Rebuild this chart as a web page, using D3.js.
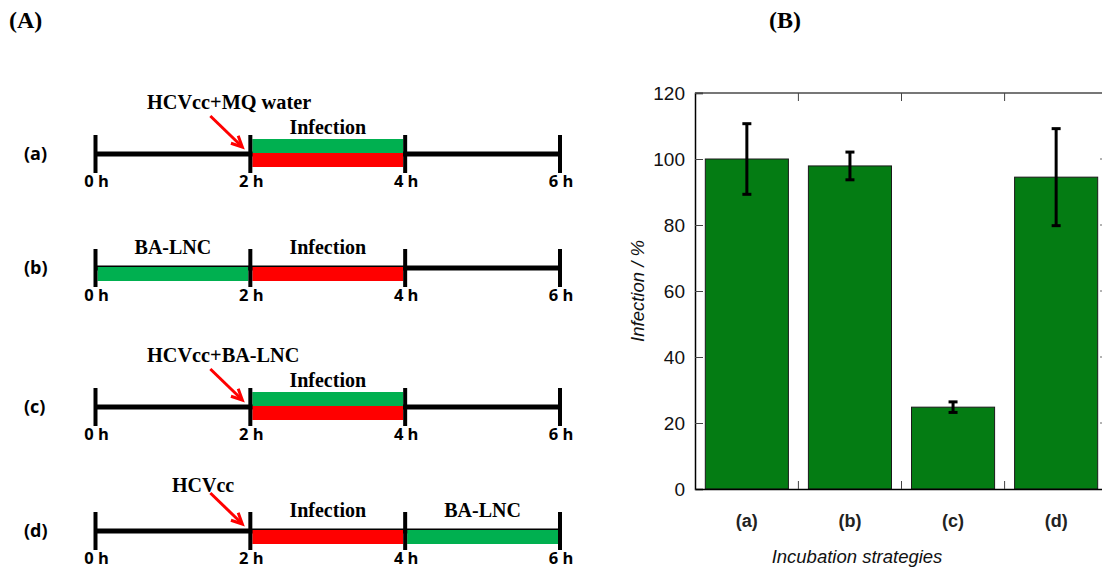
<!DOCTYPE html>
<html>
<head>
<meta charset="utf-8">
<script src="https://cdn.jsdelivr.net/npm/d3@7"></script>
<style>
  html, body { margin: 0; padding: 0; background: #fff; }
  svg { display: block; }
</style>
</head>
<body>
<svg id="chart" width="1102" height="573"></svg>
<script>
// ---------- Data ----------
// Panel A: timelines
const rowLabels = ["(a)", "(b)", "(c)", "(d)"];
const hourTicks = [0, 2, 4, 6];
const hourTickLabels = ["0 h", "2 h", "4 h", "6 h"];
// segments per row: [startHour, endHour, colour, position]
const rowSegments = [
  [[2, 4, "green", "top"], [2, 4, "red", "bottom"]],
  [[0, 2, "green", "on"], [2, 4, "red", "on"]],
  [[2, 4, "green", "top"], [2, 4, "red", "bottom"]],
  [[2, 4, "red", "on"], [4, 6, "green", "on"]]
];
// segment captions per row: [text, startHour, endHour]
const rowCaptions = [
  [["Infection", 2, 4]],
  [["BA-LNC", 0, 2], ["Infection", 2, 4]],
  [["Infection", 2, 4]],
  [["Infection", 2, 4], ["BA-LNC", 4, 6]]
];
// arrow annotations per row: [text, arrowHour] (null = none)
const rowArrows = [
  ["HCVcc+MQ water", 2],
  null,
  ["HCVcc+BA-LNC", 2],
  ["HCVcc", 2]
];

// Panel B: bar chart
const categories = ["(a)", "(b)", "(c)", "(d)"];
const infection = [100, 97.9, 24.8, 94.5];
const errors = [10.7, 4.2, 1.6, 14.7];
const yTicks = [0, 20, 40, 60, 80, 100, 120];

// ---------- Drawing ----------
const svg = d3.select("#chart");
svg.append("rect").attr("width", 1102).attr("height", 573).attr("fill", "#fff");

const serif = "'Liberation Serif', 'Times New Roman', serif";
const sansB = "'Open Sans', 'Noto Sans', sans-serif";
const arial = "'Liberation Sans', Arial, sans-serif";

// panel letters
svg.append("text").attr("x", 9).attr("y", 28).text("(A)")
  .attr("font-family", serif).attr("font-weight", "bold").attr("font-size", 24);
svg.append("text").attr("x", 769).attr("y", 28).text("(B)")
  .attr("font-family", serif).attr("font-weight", "bold").attr("font-size", 24);

// ----- Panel A -----
const hx = d3.scaleLinear().domain([0, 6]).range([95.5, 560]);
const rowLineY = { "(a)": 154, "(b)": 268, "(c)": 407, "(d)": 531 };

const green = "#00b050", red = "#ff0000";
const pa = svg.append("g");

rowLabels.forEach((lab, i) => {
  const ly = rowLineY[lab];
  const g = pa.append("g");
  g.append("line").attr("x1", hx(0)).attr("x2", hx(6)).attr("y1", ly).attr("y2", ly)
    .attr("stroke", "#000").attr("stroke-width", 5);
  rowSegments[i].forEach(([h0, h1, col, pos]) => {
    const y0 = pos === "top" ? ly - 15 : ly - 1;
    g.append("rect").attr("x", hx(h0) + 2).attr("y", y0)
      .attr("width", hx(h1) - hx(h0) - 4).attr("height", 14)
      .attr("fill", col === "green" ? green : red);
  });
  hourTicks.forEach((h, k) => {
    g.append("line").attr("x1", hx(h)).attr("x2", hx(h)).attr("y1", ly - 19).attr("y2", ly + 19)
      .attr("stroke", "#000").attr("stroke-width", 4);
    g.append("text").attr("x", hx(h) + 1).attr("y", ly + 33).attr("text-anchor", "middle")
      .attr("font-family", sansB).attr("font-weight", "bold").attr("font-size", 16.5)
      .text(hourTickLabels[k]);
  });
  g.append("text").attr("x", 24).attr("y", ly + 6).text(lab)
    .attr("font-family", sansB).attr("font-weight", "bold").attr("font-size", 18);
  const stacked = rowSegments[i].some(s => s[3] === "top");
  rowCaptions[i].forEach(([t, h0, h1]) => {
    g.append("text").attr("x", (hx(h0) + hx(h1)) / 2).attr("y", ly - (stacked ? 20 : 14))
      .attr("text-anchor", "middle").attr("font-family", serif).attr("font-weight", "bold")
      .attr("font-size", 20).text(t);
  });
  if (rowArrows[i]) {
    const [t, h] = rowArrows[i];
    const ex = hx(h) - 8, ey = ly - 7;
    const sx = hx(h) - 40, sy = ly - 38;
    g.append("line").attr("x1", sx).attr("y1", sy).attr("x2", ex - 2).attr("y2", ey - 2)
      .attr("stroke", red).attr("stroke-width", 3);
    const ang = Math.atan2(ey - sy, ex - sx);
    const L = 12, a = 0.45;
    const p1 = [ex - L * Math.cos(ang - a), ey - L * Math.sin(ang - a)];
    const p2 = [ex - L * Math.cos(ang + a), ey - L * Math.sin(ang + a)];
    g.append("path").attr("d", `M${p1[0]},${p1[1]}L${ex},${ey}L${p2[0]},${p2[1]}`)
      .attr("fill", "none").attr("stroke", red).attr("stroke-width", 3)
      .attr("stroke-linejoin", "miter");
    const textY = ly - (stacked ? 45 : 39);
    if (t === "HCVcc") {
      g.append("text").attr("x", hx(1.39)).attr("y", textY).attr("text-anchor", "middle")
        .attr("font-family", serif).attr("font-weight", "bold").attr("font-size", 20).text(t);
    } else {
      g.append("text").attr("x", 147).attr("y", textY)
        .attr("font-family", serif).attr("font-weight", "bold").attr("font-size", 20.3).text(t);
    }
  }
});

// ----- Panel B -----
const pLeft = 695, pRight = 1108, pTop = 93, pBottom = 489;
const x = d3.scaleBand().domain(categories).range([pLeft, pRight])
  .paddingInner(0.194).paddingOuter(0.1);
const y = d3.scaleLinear().domain([0, 120]).range([pBottom, pTop]);
const pb = svg.append("g");

pb.selectAll("rect.bar").data(categories).join("rect").attr("class", "bar")
  .attr("x", d => x(d)).attr("width", x.bandwidth())
  .attr("y", (d, i) => y(infection[i])).attr("height", (d, i) => y(0) - y(infection[i]))
  .attr("fill", "#047c13").attr("stroke", "#1a1a1a").attr("stroke-width", 1);

categories.forEach((c, i) => {
  const cx = x(c) + x.bandwidth() / 2;
  const y1 = y(infection[i] + errors[i]), y0 = y(infection[i] - errors[i]);
  pb.append("line").attr("x1", cx).attr("x2", cx).attr("y1", y1).attr("y2", y0)
    .attr("stroke", "#000").attr("stroke-width", 3);
  [y1, y0].forEach(yy => pb.append("line").attr("x1", cx - 4.5).attr("x2", cx + 4.5)
    .attr("y1", yy).attr("y2", yy).attr("stroke", "#000").attr("stroke-width", 3));
});

pb.append("line").attr("x1", pLeft).attr("x2", pRight).attr("y1", pTop).attr("y2", pTop)
  .attr("stroke", "#777").attr("stroke-width", 2);
pb.append("line").attr("x1", pRight).attr("x2", pRight).attr("y1", pTop).attr("y2", pBottom)
  .attr("stroke", "#777").attr("stroke-width", 2);

const yAxis = d3.axisLeft(y).tickValues(yTicks).tickSize(-8).tickPadding(10)
  .tickFormat(d3.format("d"));
const gy = pb.append("g").attr("transform", `translate(${pLeft},0)`).call(yAxis);
gy.select(".domain").attr("stroke", "#000").attr("stroke-width", 1.5);
gy.selectAll(".tick line").attr("stroke", "#444").attr("stroke-width", 1);
gy.selectAll(".tick text").attr("font-family", arial).attr("font-size", 19).attr("fill", "#111");

pb.selectAll("line.rt").data(yTicks.slice(1, -1)).join("line").attr("class", "rt")
  .attr("x1", pRight - 8).attr("x2", pRight).attr("y1", d => y(d)).attr("y2", d => y(d))
  .attr("stroke", "#666");

const xAxis = d3.axisBottom(x).tickSize(0).tickPadding(25);
const gx = pb.append("g").attr("transform", `translate(0,${pBottom})`).call(xAxis);
gx.select(".domain").attr("stroke", "#000").attr("stroke-width", 1.5);
gx.selectAll(".tick text").attr("font-family", arial).attr("font-weight", "bold")
  .attr("font-size", 18).attr("fill", "#222");

const sep = categories.slice(0, -1).map(c => x(c) + x.bandwidth() + x.step() * x.paddingInner() / 2);
pb.selectAll("line.bsep").data(sep).join("line").attr("class", "bsep")
  .attr("x1", d => d).attr("x2", d => d).attr("y1", pBottom).attr("y2", pBottom - 8)
  .attr("stroke", "#444").attr("stroke-width", 1);
pb.selectAll("line.tsep").data(sep).join("line").attr("class", "tsep")
  .attr("x1", d => d).attr("x2", d => d).attr("y1", pTop).attr("y2", pTop + 8)
  .attr("stroke", "#444").attr("stroke-width", 1);

pb.append("text").attr("transform", `translate(644,${(pTop + pBottom) / 2}) rotate(-90)`)
  .attr("text-anchor", "middle").attr("font-family", arial).attr("font-style", "italic")
  .attr("font-size", 18.5).attr("fill", "#111").text("Infection / %");
pb.append("text").attr("x", 857).attr("y", 563).attr("text-anchor", "middle")
  .attr("font-family", arial).attr("font-style", "italic").attr("font-size", 18.5)
  .attr("fill", "#111").text("Incubation strategies");
</script>
</body>
</html>
